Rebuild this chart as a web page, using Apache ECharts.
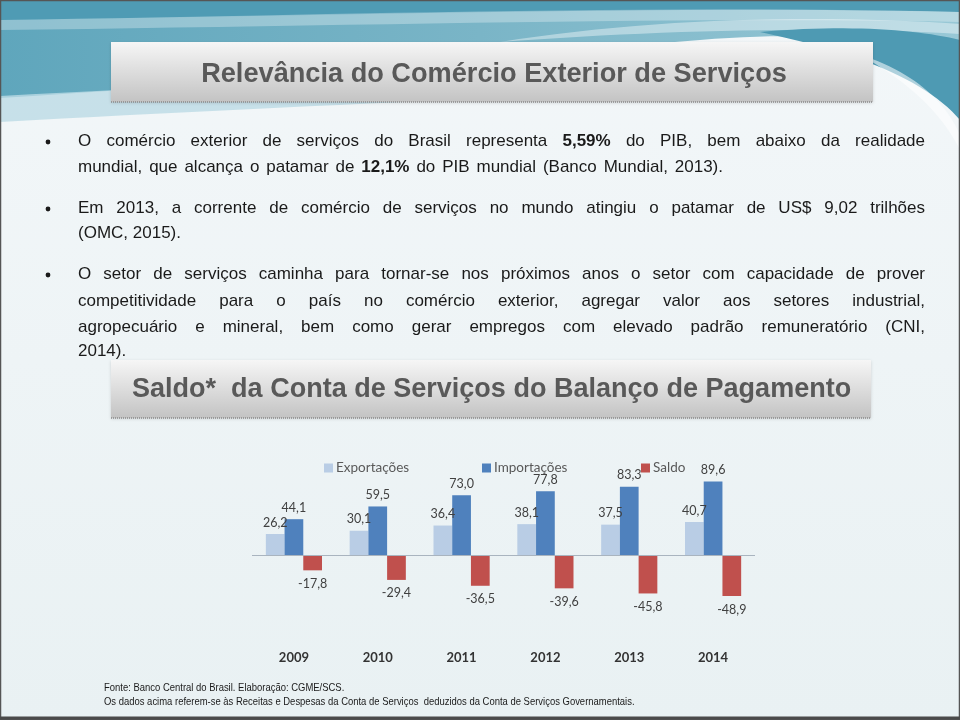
<!DOCTYPE html>
<html lang="pt">
<head>
    <meta charset="UTF-8">
    <title>Saldo da Conta de Serviços</title>
    <script src="https://cdn.jsdelivr.net/npm/echarts@6/dist/echarts.min.js"></script>
    <style>
        html, body { margin: 0; padding: 0; }
        #main { width: 960px; height: 720px; }
    </style>
</head>
<body>
    <div id="main"></div>
    <script type="text/javascript">
        // dados do gráfico (US$ bilhões)
        var anos = ['2009', '2010', '2011', '2012', '2013', '2014'];
        var exportacoes = [26.2, 30.1, 36.4, 38.1, 37.5, 40.7];
        var importacoes = [44.1, 59.5, 73.0, 77.8, 83.3, 89.6];
        var saldo = [-17.8, -29.4, -36.5, -39.6, -45.8, -48.9];

        // textos do slide
        var titulo = 'Relevância do Comércio Exterior de Serviços';
        var subtitulo = 'Saldo*  da Conta de Serviços do Balanço de Pagamento';
        var linhas = [
            'O comércio exterior de serviços do Brasil representa *5,59%* do PIB, bem abaixo da realidade',
            'mundial, que alcança o patamar de *12,1%* do PIB mundial (Banco Mundial, 2013).',
            'Em 2013, a corrente de comércio de serviços no mundo atingiu o patamar de US$ 9,02 trilhões',
            '(OMC, 2015).',
            'O setor de serviços caminha para tornar-se nos próximos anos o setor com capacidade de prover',
            'competitividade para o país no comércio exterior, agregar valor aos setores industrial,',
            'agropecuário e mineral, bem como gerar empregos com elevado padrão remuneratório (CNI,',
            '2014).'
        ];
        var notas = [
            'Fonte: Banco Central do Brasil. Elaboração: CGME/SCS.',
            'Os dados acima referem-se às Receitas e Despesas da Conta de Serviços  deduzidos da Conta de Serviços Governamentais.'
        ];

        // posição de cada linha: y, borda direita (null = sem justificar), marcador
        var layoutLinhas = [
            [141, 925, true], [167, 723, false], [208, 925, true], [233, null, false],
            [274, 925, true], [301, 925, false], [327, 925, false], [351, null, false]
        ];

        var fonteTexto = '"Liberation Sans", Arial, sans-serif';
        var ctx = document.createElement('canvas').getContext('2d');
        function medir(t, bold) {
            ctx.font = (bold ? 'bold ' : '') + '17px ' + fonteTexto;
            return ctx.measureText(t).width;
        }

        // converte um caminho simples (M, L, C, Z) em pontos de polígono
        function pontos(d) {
            var tk = d.replace(/,/g, ' ').split(/\s+|(?=[MLCZ])|(?<=[MLCZ])/).filter(function (s) { return s !== ''; });
            var pts = [], cur = [0, 0], i = 0, cmd;
            while (i < tk.length) {
                if (/[MLCZ]/.test(tk[i])) { cmd = tk[i]; i++; if (cmd === 'Z') continue; }
                if (cmd === 'M' || cmd === 'L') {
                    cur = [+tk[i], +tk[i + 1]]; pts.push(cur); i += 2;
                } else if (cmd === 'C') {
                    var p1 = [+tk[i], +tk[i + 1]], p2 = [+tk[i + 2], +tk[i + 3]], p3 = [+tk[i + 4], +tk[i + 5]];
                    for (var s = 1; s <= 24; s++) {
                        var t = s / 24, u = 1 - t;
                        pts.push([
                            u * u * u * cur[0] + 3 * u * u * t * p1[0] + 3 * u * t * t * p2[0] + t * t * t * p3[0],
                            u * u * u * cur[1] + 3 * u * u * t * p1[1] + 3 * u * t * t * p2[1] + t * t * t * p3[1]
                        ]);
                    }
                    cur = p3; i += 6;
                } else { i++; }
            }
            return pts;
        }
        function onda(d, z, style) {
            return { type: 'polygon', z: z, shape: { points: pontos(d) }, style: style };
        }

        var graficos = [];

        // fundo e ondas do topo
        graficos.push(
            { type: 'rect', z: 0, shape: { x: 0, y: 0, width: 960, height: 720 },
              style: { fill: { type: 'linear', x: 0, y: 0, x2: 0, y2: 1, colorStops: [
                  { offset: 0, color: '#f3f7f9' }, { offset: 1, color: '#e9f1f3' }] } } },
            onda('M0,0 L960,0 L960,70 C900,40 820,30 700,40 C500,55 300,80 0,98 Z', 1,
                { fill: { type: 'linear', x: 0, y: 0, x2: 1, y2: 0, colorStops: [
                  { offset: 0, color: '#5fa6bc' }, { offset: 0.5, color: '#7ab5c7' }, { offset: 1, color: '#98c8d6' }] } }),
            onda('M0,96 C250,82 450,78 700,88 C500,98 250,108 0,122 Z', 1, { fill: '#bcdbe5', opacity: 0.8 }),
            onda('M0,0 L960,0 L960,12 C700,6 400,14 0,20 Z', 2, { fill: '#4f9bb4' }),
            onda('M0,20 C300,16 650,4 960,12 L960,22 C700,16 350,26 0,30 Z', 2, { fill: '#ffffff', opacity: 0.3 }),
            onda('M500,42 C650,18 820,14 960,24 L960,34 C830,26 660,30 500,42 Z', 2, { fill: '#ffffff', opacity: 0.4 }),
            onda('M760,32 C850,24 920,30 960,40 L960,120 C930,85 870,55 760,32 Z', 2, { fill: '#4e9ab3' }),
            onda('M860,55 C910,70 945,100 960,135 L960,150 C940,110 905,80 860,55 Z', 2, { fill: '#ffffff', opacity: 0.55 })
        );

        // linhas de texto com marcadores
        linhas.forEach(function (linha, i) {
            var y = layoutLinhas[i][0], direita = layoutLinhas[i][1];
            var palavras = linha.split(' ').map(function (p) {
                var b = p.charAt(0) === '*';
                var t = p.replace(/\*/g, '');
                return { t: t, b: b, w: medir(t, b) };
            });
            var soma = palavras.reduce(function (s, p) { return s + p.w; }, 0);
            var gap = direita ? (direita - 78 - soma) / (palavras.length - 1) : medir(' ', false);
            var x = 78;
            palavras.forEach(function (p) {
                graficos.push({ type: 'text', z: 5, x: x, y: y,
                    style: { text: p.t, fill: '#1a1a1a', font: (p.b ? 'bold ' : '') + '17px ' + fonteTexto,
                             verticalAlign: 'middle' } });
                x += p.w + gap;
            });
            if (layoutLinhas[i][2]) {
                graficos.push({ type: 'circle', z: 5, shape: { cx: 48, cy: y + 1, r: 2.4 }, style: { fill: '#1a1a1a' } });
            }
        });

        // caixas de título
        function caixa(x, y, w, h) {
            graficos.push(
                { type: 'rect', z: 6, shape: { x: x, y: y, width: w, height: h },
                  style: { fill: { type: 'linear', x: 0, y: 0, x2: 0, y2: 1, colorStops: [
                      { offset: 0, color: '#f6f6f6' }, { offset: 1, color: '#c3c3c3' }] },
                      shadowBlur: 3, shadowColor: 'rgba(0,0,0,0.15)', shadowOffsetY: 1 } },
                { type: 'line', z: 7, shape: { x1: x, y1: y + h, x2: x + w, y2: y + h },
                  style: { stroke: '#8a8a8a', lineWidth: 1.5, lineDash: [1, 1] } }
            );
        }
        caixa(111, 42, 762, 60);
        caixa(111, 360, 760, 58);
        graficos.push(
            { type: 'text', z: 8, x: 494, y: 74, scaleX: 0.97,
              style: { text: titulo, fill: '#595959', font: 'bold 28px ' + fonteTexto,
                       align: 'center', verticalAlign: 'middle' } },
            { type: 'text', z: 8, x: 132, y: 389, scaleX: 0.965,
              style: { text: subtitulo, fill: '#595959', font: 'bold 28px ' + fonteTexto,
                       verticalAlign: 'middle' } }
        );

        // notas de rodapé
        notas.forEach(function (n, i) {
            graficos.push({ type: 'text', z: 5, x: 104, y: 688 + i * 14, scaleX: 0.86,
                style: { text: n, fill: '#1a1a1a', font: '11px ' + fonteTexto,
                         verticalAlign: 'middle' } });
        });

        // moldura
        graficos.push(
            { type: 'rect', z: 9, shape: { x: 0.5, y: 0.5, width: 959, height: 719 },
              style: { fill: null, stroke: '#555555', lineWidth: 1.5 } },
            { type: 'line', z: 9, shape: { x1: 0, y1: 718, x2: 960, y2: 718 },
              style: { stroke: '#4a4a4a', lineWidth: 3 } }
        );

        function rotulo(p) {
            return p.value.toFixed(1).replace('.', ',');
        }
        var fonteGrafico = 'Lato, "Open Sans", sans-serif';

        var myChart = echarts.init(document.getElementById('main'));
        var option = {
            animation: false,
            graphic: graficos,
            color: ['#b9cde5', '#4f81bd', '#c0504d'],
            legend: [
                { data: ['Exportações'], left: 324, top: 461 },
                { data: ['Importações'], left: 482, top: 461 },
                { data: ['Saldo'], left: 641, top: 461 }
            ].map(function (l) {
                l.itemWidth = 9; l.itemHeight = 9; l.itemGap = 4; l.padding = 0;
                l.icon = 'rect';
                l.textStyle = { fontFamily: fonteGrafico, fontSize: 13.5, color: '#595959', padding: [0, 0, 0, -2] };
                return l;
            }),
            grid: { left: 252, width: 503, top: 473, height: 173.5 },
            xAxis: {
                type: 'category',
                data: anos,
                axisLine: { show: false, onZero: false },
                axisTick: { show: false },
                axisLabel: { fontFamily: fonteGrafico, fontSize: 13, fontWeight: 'bold', color: '#333333', margin: 5 }
            },
            yAxis: {
                type: 'value', min: -110, max: 100, show: false,
                splitLine: { show: false }
            },
            series: [
                {
                    name: 'Exportações', type: 'bar', data: exportacoes,
                    barGap: '0%', barCategoryGap: '33%',
                    label: { show: true, position: 'top', formatter: rotulo,
                             fontFamily: fonteGrafico, fontSize: 12.5, color: '#404040' },
                    markLine: {
                        silent: true, symbol: 'none', label: { show: false },
                        lineStyle: { color: '#a9b4bf', width: 1, type: 'solid' },
                        data: [{ yAxis: 0 }]
                    }
                },
                {
                    name: 'Importações', type: 'bar', data: importacoes,
                    label: { show: true, position: 'top', formatter: rotulo,
                             fontFamily: fonteGrafico, fontSize: 12.5, color: '#404040' }
                },
                {
                    name: 'Saldo', type: 'bar', data: saldo,
                    label: { show: true, position: 'bottom', distance: 7, formatter: rotulo,
                             fontFamily: fonteGrafico, fontSize: 12.5, color: '#404040' }
                }
            ]
        };
        myChart.setOption(option);
    </script>
</body>
</html>
